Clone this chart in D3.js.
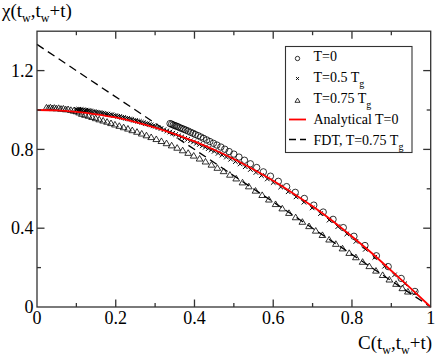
<!DOCTYPE html>
<html><head><meta charset="utf-8">
<script src="https://cdn.jsdelivr.net/npm/d3@7"></script>
<style>
html,body{margin:0;padding:0;background:#fff;}
svg{display:block;}
svg text{font-family:"Liberation Serif","Times New Roman",Times,serif;}
</style></head><body>
<svg id="chart" width="436" height="358"></svg>
<script>
// ---- data ----
const xTickValues = [0, 0.2, 0.4, 0.6, 0.8, 1];
const xTickLabels = ["0", "0.2", "0.4", "0.6", "0.8", "1"];
const xMinorValues = [0.1, 0.3, 0.5, 0.7, 0.9];
const yTickValues = [0, 0.4, 0.8, 1.2];
const yTickLabels = ["0", "0.4", "0.8", "1.2"];
const yMinorValues = [0.2, 0.6, 1.0];

// T=0 (circles)
const cT0 = [0.338,0.342,0.346,0.350,0.354,0.358,0.363,0.368,0.373,0.378,0.384,0.390,0.396,0.402,0.409,0.416,0.423,0.431,0.439,0.448,0.457,0.467,0.477,0.488,0.500,0.513,0.527,0.542,0.558,0.575,0.593,0.613,0.634,0.656,0.679,0.703,0.727,0.752,0.778,0.805,0.833,0.862,0.892,0.925,0.960];
const chiT0 = [0.931,0.928,0.924,0.921,0.918,0.915,0.910,0.906,0.902,0.898,0.893,0.887,0.882,0.876,0.870,0.863,0.856,0.848,0.840,0.831,0.822,0.812,0.801,0.789,0.776,0.761,0.745,0.727,0.708,0.686,0.664,0.638,0.611,0.582,0.551,0.517,0.482,0.445,0.403,0.359,0.312,0.260,0.205,0.145,0.079];

// T=0.5 Tg (crosses)
const cT05 = [0.100,0.103,0.106,0.109,0.112,0.115,0.118,0.121,0.124,0.127,0.130,0.133,0.136,
  0.140,0.145,0.150,0.155,0.160,0.165,0.170,0.175,0.180,0.185,0.190,0.195,0.200,0.205,0.210,0.215,0.220,0.225,0.230,0.235,0.240,0.245,0.250,0.255,0.260,0.265,0.270,0.275,0.280,0.285,0.290,0.295,0.300,
  0.3075,0.315,0.3225,0.330,0.3375,0.345,0.3525,0.360,0.3675,0.375,0.3825,0.390,0.3975,0.405,0.4125,0.420,0.4275,0.435,0.4425,0.450,
  0.460,0.470,0.481,0.492,0.504,0.516,0.529,0.542,0.556,0.570,0.585,0.600,0.619,0.638,0.658,0.678,0.699,0.720,0.742,0.764,0.787,0.810,0.834,0.858,0.883,0.908,0.934,0.960];
const chiT05 = [1.003,1.001,1.004,1.000,1.002,0.999,1.001,0.997,0.999,0.996,0.997,0.994,0.995,
  0.992,0.992,0.989,0.988,0.987,0.984,0.983,0.980,0.979,0.976,0.976,0.972,0.971,0.968,0.967,0.963,0.962,0.958,0.957,0.954,0.953,0.948,0.947,0.943,0.942,0.938,0.936,0.931,0.930,0.926,0.924,0.919,0.917,
  0.911,0.906,0.900,0.894,0.888,0.882,0.876,0.869,0.863,0.856,0.851,0.844,0.838,0.831,0.825,0.818,0.811,0.804,0.797,0.790,
  0.780,0.771,0.761,0.750,0.738,0.726,0.712,0.698,0.683,0.667,0.650,0.632,0.609,0.585,0.559,0.532,0.503,0.474,0.441,0.408,0.371,0.333,0.293,0.252,0.207,0.163,0.118,0.072];

// T=0.75 Tg (triangles)
const cT075 = [0.024,0.029,0.034,0.039,0.044,0.049,0.055,0.061,0.067,0.073,0.079,0.086,0.093,0.100,0.107,0.114,0.122,0.131,0.140,0.149,0.158,0.168,0.178,0.188,0.198,0.209,0.220,0.231,0.242,0.254,0.266,0.278,0.290,0.303,0.316,0.329,0.342,0.356,0.370,0.384,0.398,0.413,0.428,0.443,0.458,0.474,0.490,0.506,0.522,0.538,0.555,0.572,0.589,0.606,0.623,0.640,0.657,0.674,0.691,0.708,0.725,0.742,0.759,0.776,0.793,0.810,0.827,0.844,0.861,0.878,0.895,0.912,0.928,0.942];
const chiT075 = [1.012,1.010,1.013,1.009,1.011,1.008,1.010,1.006,1.007,1.003,1.004,1.000,0.996,0.993,0.987,0.980,0.975,0.970,0.964,0.958,0.952,0.946,0.940,0.933,0.926,0.919,0.912,0.905,0.897,0.889,0.880,0.871,0.862,0.852,0.842,0.831,0.820,0.808,0.795,0.782,0.768,0.753,0.738,0.722,0.706,0.689,0.671,0.652,0.632,0.612,0.590,0.568,0.545,0.522,0.500,0.477,0.455,0.432,0.410,0.387,0.365,0.342,0.320,0.297,0.274,0.252,0.229,0.207,0.184,0.162,0.139,0.117,0.095,0.078];

// Analytical T=0 (red curve)
const cAnalytic = [0,0.05,0.1,0.15,0.2,0.25,0.3,0.35,0.4,0.45,0.5,0.55,0.6,0.65,0.7,0.75,0.8,0.85,0.9,0.95,1];
const chiAnalytic = [1.0,0.998,0.99,0.978,0.962,0.939,0.911,0.878,0.841,0.798,0.751,0.698,0.641,0.578,0.511,0.438,0.358,0.274,0.184,0.093,0.0];

// FDT line, T=0.75 Tg
const cFDT = [0, 1];
const chiFDT = [1.333, 0];

// ---- drawing ----
const svg = d3.select("#chart");
const x = d3.scaleLinear().domain([0, 1]).range([37, 430.7]);
const y = d3.scaleLinear().domain([0, 1.4]).range([307, 31.2]);
const axisColor = "#333";
const FONT = "'Liberation Serif', 'Times New Roman', Times, serif";

const zip = (a, b) => a.map((v, i) => [v, b[i]]);

// dashed FDT
svg.append("path")
  .datum(zip(cFDT, chiFDT))
  .attr("d", d3.line().x(d => x(d[0])).y(d => y(d[1])))
  .attr("fill", "none").attr("stroke", "#000").attr("stroke-width", 1.3)
  .attr("stroke-dasharray", "8,5");

// markers
const g = svg.append("g");
g.selectAll("circle.t0").data(zip(cT0, chiT0)).enter().append("circle")
  .attr("cx", d => x(d[0])).attr("cy", d => y(d[1])).attr("r", 3.2)
  .attr("fill", "none").attr("stroke", "#000").attr("stroke-width", 0.8);

const crossPath = s => `M${-s},${-s}L${s},${s}M${-s},${s}L${s},${-s}`;
g.selectAll("path.t05").data(zip(cT05, chiT05)).enter().append("path")
  .attr("transform", d => `translate(${x(d[0])},${y(d[1])})`)
  .attr("d", crossPath(2.3))
  .attr("fill", "none").attr("stroke", "#000").attr("stroke-width", 1.0);

const triPath = s => `M0,${-s}L${s*1.05},${s*0.75}L${-s*1.05},${s*0.75}Z`;
g.selectAll("path.t075").data(zip(cT075, chiT075)).enter().append("path")
  .attr("transform", d => `translate(${x(d[0])},${y(d[1])})`)
  .attr("d", triPath(3.2))
  .attr("fill", "none").attr("stroke", "#000").attr("stroke-width", 0.8);

// red analytical curve
svg.append("path")
  .datum(zip(cAnalytic, chiAnalytic))
  .attr("d", d3.line().x(d => x(d[0])).y(d => y(d[1])).curve(d3.curveMonotoneX))
  .attr("fill", "none").attr("stroke", "#ff0000").attr("stroke-width", 1.8);

// frame + ticks
const ax = svg.append("g").attr("stroke", axisColor).attr("stroke-width", 1.3);
ax.append("rect").attr("x", x(0)).attr("y", y(1.4)).attr("width", x(1) - x(0)).attr("height", y(0) - y(1.4))
  .attr("fill", "none");
function vt(v, len, top) {
  ax.append("line").attr("x1", x(v)).attr("x2", x(v))
    .attr("y1", top ? y(1.4) : y(0)).attr("y2", top ? y(1.4) + len : y(0) - len);
}
function ht(v, len, right) {
  ax.append("line").attr("y1", y(v)).attr("y2", y(v))
    .attr("x1", right ? x(1) : x(0)).attr("x2", right ? x(1) - len : x(0) + len);
}
xTickValues.forEach(v => { if (v > 0 && v < 1) { vt(v, 7.5, false); vt(v, 7.5, true); } });
xMinorValues.forEach(v => { vt(v, 4, false); vt(v, 4, true); });
yTickValues.forEach(v => { if (v > 0) { ht(v, 7.5, false); ht(v, 7.5, true); } });
yMinorValues.forEach(v => { ht(v, 4, false); ht(v, 4, true); });

// tick labels
svg.append("g").selectAll("text").data(xTickValues).enter().append("text")
  .attr("x", d => x(d)).attr("y", 323.5).attr("text-anchor", "middle")
  .style("font-family", FONT).attr("font-size", 18).text((d, i) => xTickLabels[i]);
svg.append("g").selectAll("text").data(yTickValues).enter().append("text")
  .attr("x", 33.5).attr("y", d => y(d) + 6.2).attr("text-anchor", "end")
  .style("font-family", FONT).attr("font-size", 18).text((d, i) => yTickLabels[i]);

// axis titles
function title(t, xPos, yPos, anchor) {
  const el = svg.append("text").attr("x", xPos).attr("y", yPos).attr("text-anchor", anchor)
    .style("font-family", FONT).attr("font-size", 19);
  t.forEach(p => {
    const s = el.append("tspan").text(p[0]);
    if (p[1] === "sub") s.attr("font-size", 12).attr("dy", 5);
    else if (p[1] === "up") s.attr("dy", -5);
  });
}
title([["χ(t"], ["w", "sub"], [",t", "up"], ["w", "sub"], ["+t)", "up"]], 2, 17, "start");
title([["C(t"], ["w", "sub"], [",t", "up"], ["w", "sub"], ["+t)", "up"]], 432, 349, "end");

// legend
const lg = svg.append("g");
lg.append("rect").attr("x", 285.5).attr("y", 46.5).attr("width", 126.5).attr("height", 106)
  .attr("fill", "#fff").attr("stroke", axisColor).attr("stroke-width", 1.1);
const mx = 297.5, tx = 313.5;
lg.append("circle").attr("cx", mx).attr("cy", 58.5).attr("r", 2.2)
  .attr("fill", "none").attr("stroke", "#000").attr("stroke-width", 0.8);
lg.append("path").attr("transform", `translate(${mx},78.5)`).attr("d", crossPath(1.5))
  .attr("stroke", "#000").attr("stroke-width", 0.9);
lg.append("path").attr("transform", `translate(${mx},100.5)`).attr("d", triPath(2.4))
  .attr("fill", "none").attr("stroke", "#000").attr("stroke-width", 0.8);
lg.append("line").attr("x1", 289).attr("x2", 306).attr("y1", 119.5).attr("y2", 119.5)
  .attr("stroke", "#ff0000").attr("stroke-width", 1.8);
lg.append("line").attr("x1", 289).attr("x2", 306).attr("y1", 139.5).attr("y2", 139.5)
  .attr("stroke", "#000").attr("stroke-width", 1.4).attr("stroke-dasharray", "7,4");

function ltext(parts, yb) {
  const el = lg.append("text").attr("x", tx).attr("y", yb).style("font-family", FONT).attr("font-size", 14);
  parts.forEach(p => {
    const s = el.append("tspan").text(p[0]);
    if (p[1] === "sub") s.attr("font-size", 10).attr("dy", 5);
  });
}
ltext([["T=0"]], 61);
ltext([["T=0.5 T"], ["g", "sub"]], 81.5);
ltext([["T=0.75 T"], ["g", "sub"]], 103);
ltext([["Analytical T=0"]], 124);
ltext([["FDT, T=0.75 T"], ["g", "sub"]], 144.5);
</script>
</body></html>
